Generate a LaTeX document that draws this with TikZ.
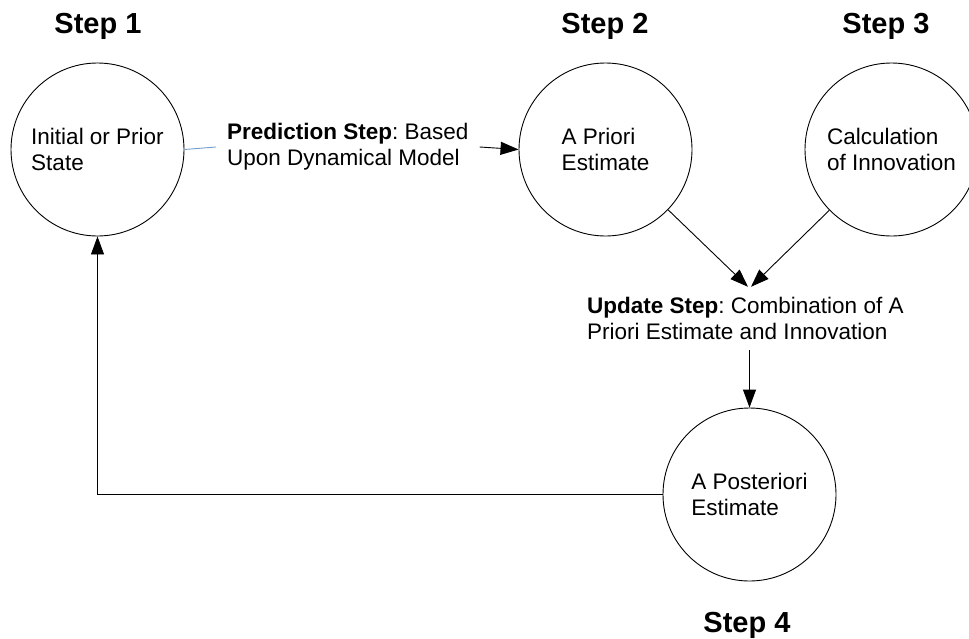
\documentclass[tikz,border=0pt]{standalone}
\usepackage{fontspec}
\setmainfont{Liberation Sans}
\usetikzlibrary{arrows.meta}
\definecolor{linkblue}{HTML}{729FCF}
\begin{document}
\frenchspacing
\begin{tikzpicture}[x=1pt,y=-1pt,
  stepcircle/.style={circle,draw,line width=0.9pt,minimum size=173pt,inner sep=0pt,align=left,font=\fontsize{22.5}{25.5}\selectfont},
  steplabel/.style={font=\bfseries\fontsize{29}{33}\selectfont,anchor=base,inner sep=0pt},
  conn/.style={line width=0.9pt,-{Triangle[length=18pt,width=13pt]}},
  notetext/.style={align=left,font=\fontsize{22.5}{26}\selectfont,inner xsep=0pt}]
\useasboundingbox (0,0) rectangle (969,638);
\clip (0,0) rectangle (969,638);
\fill[white] (0,0) rectangle (969,638);

\node[stepcircle] (c1) at (97.5,149.5) {Initial or Prior\\State};
\node[stepcircle] (c2) at (605.5,149.5) {A Priori\\Estimate};
\node[stepcircle] (c3) at (891.5,149.5) {Calculation\\of Innovation};
\node[stepcircle] (c4) at (749.5,494.5) {A Posteriori\\Estimate};

\node[steplabel] (s1) at (98,33) {Step 1};
\node[steplabel] (s2) at (605,33) {Step 2};
\node[steplabel] (s3) at (886,33) {Step 3};
\node[steplabel] (s4) at (747,632) {Step 4};

\node[notetext, inner xsep=11pt, anchor=west] (pred) at (216,147)
  {\textbf{Prediction Step}: Based\\Upon Dynamical Model};
\node[notetext, minimum height=63pt, inner ysep=0pt, anchor=west] (upd) at (587,318.5)
  {\textbf{Update Step}: Combination of A\\Priori Estimate and Innovation};

\draw[linkblue, line width=0.9pt] (c1.east) -- (pred.west);
\draw[conn] (pred.east) -- (c2.west);
\draw[conn] (c2) -- ([xshift=-1.5pt]upd.north -| c4);
\draw[conn] (c3) -- ([xshift=1.5pt]upd.north -| c4);
\draw[conn] (upd.south -| c4) -- (c4.north);
\draw[conn] (c4.west) -| (c1.south);
\end{tikzpicture}
\end{document}
